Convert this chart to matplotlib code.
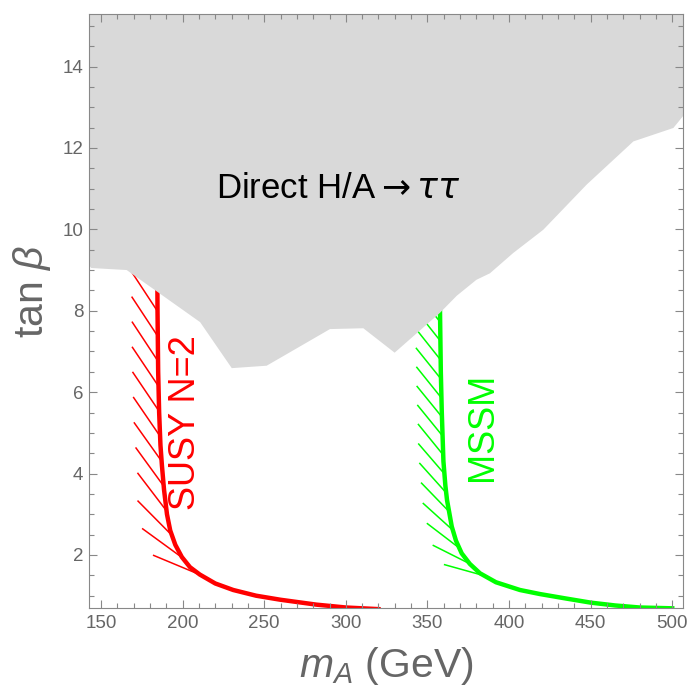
import matplotlib
matplotlib.use('Agg')
import matplotlib.pyplot as plt
import numpy as np
from matplotlib.collections import LineCollection

plt.rcParams['font.family'] = ['Liberation Sans', 'DejaVu Sans']
plt.rcParams['mathtext.fontset'] = 'custom'
plt.rcParams['mathtext.rm'] = 'Liberation Sans'
plt.rcParams['mathtext.it'] = 'Liberation Sans:italic'

# excluded region from direct H/A -> tau tau searches (boundary)
excl_mA = [142, 142, 144, 165.7, 210.7, 230.1, 251.5, 290.3, 310.7, 329.9, 357.7,
           368, 380, 388.3, 402.6, 421, 447.6, 476.2, 500.7, 507, 507]
excl_tb = [15.5, 9.15, 9.05, 9.0, 7.72, 6.59, 6.65, 7.55, 7.57, 6.97, 7.95,
           8.37, 8.76, 8.92, 9.42, 9.99, 11.1, 12.16, 12.49, 12.8, 15.5]

# SUSY N=2 bound
susy_mA = [184.3, 184.4, 184.6, 185.0, 185.6, 186.4, 187.3, 188.6, 190.4, 192.4,
           195.5, 199.5, 204.5, 210.5, 220, 231, 245, 260, 282, 300, 320]
susy_tb = [11.0, 9.5, 8.0, 6.5, 5.5, 4.7, 4.2, 3.6, 3.0, 2.6,
           2.25, 1.95, 1.7, 1.52, 1.3, 1.14, 1.0, 0.9, 0.78, 0.71, 0.67]

# MSSM bound
mssm_mA = [357.4, 357.5, 357.7, 358.2, 358.8, 359.8, 361.0, 362.0, 364.9, 367.5,
           371, 376, 382.2, 392, 406.7, 419, 435, 450, 465, 480, 500]
mssm_tb = [11.0, 9.5, 8.0, 6.5, 5.5, 4.3, 3.7, 3.35, 2.70, 2.35,
           2.04, 1.78, 1.55, 1.33, 1.14, 1.04, 0.93, 0.83, 0.76, 0.71, 0.69]

xticks = [150, 200, 250, 300, 350, 400, 450, 500]
yticks = [2, 4, 6, 8, 10, 12, 14]

W, H = 687, 693
fig = plt.figure(figsize=(W / 100, H / 100), dpi=100)
ax = fig.add_axes([89.3 / W, (H - 607.7) / H, (683 - 89.3) / W, (607.7 - 14) / H])
ax.set_xlim(142.8, 506.6)
ax.set_ylim(0.705, 15.29)
ax.set_axisbelow(False)


def hatch(x, y, color, spacing, psi0, len0, len1, tb_min):
    # short strokes on the excluded (left) side of a bound, spaced evenly along it in pixels
    pts = ax.transData.transform(np.column_stack([x, y]))
    s = np.concatenate([[0], np.cumsum(np.hypot(*np.diff(pts, axis=0).T))])
    s0 = np.interp(tb_min, np.array(y)[::-1], s[::-1])
    px = lambda v: np.array([np.interp(v, s, pts[:, 0]), np.interp(v, s, pts[:, 1])])
    segs = []
    for sb in np.arange(s0, 0, -spacing):
        p = px(sb)
        t = px(sb - 4) - px(sb + 4)
        phi = np.degrees(np.arctan2(t[1], t[0]))
        psi = np.radians(psi0 + 0.6 * (phi - 90))
        L = len0 + (len1 - len0) * np.clip((phi - 90) / 55, 0, 1)
        q = p + L * np.array([np.cos(psi), np.sin(psi)])
        segs.append(ax.transData.inverted().transform(np.array([p, q])))
    ax.add_collection(LineCollection(segs, colors=color, linewidths=1.1, zorder=1.1))


hatch(susy_mA, susy_tb, '#ff0000', 25, 123, 47.5, 51.5, 1.51)
hatch(mssm_mA, mssm_tb, '#00ff00', 19, 128, 40, 42, 1.49)
ax.plot(susy_mA, susy_tb, color='#ff0000', lw=3.2, zorder=1.2)
ax.plot(mssm_mA, mssm_tb, color='#00ff00', lw=3.2, zorder=1.2)

ax.fill(excl_mA, excl_tb, color='#d9d9d9', lw=0, zorder=1.8)

ax.text(295.2, 11.0, 'Direct H/A${\\rightarrow}\\tau\\tau$', fontsize=25,
        color='black', ha='center', va='center', zorder=3, math_fontfamily='dejavusans')
ax.text(202, 5.26, 'SUSY N=2', fontsize=26, color='#ff0000', rotation=90,
        ha='center', va='center', zorder=3)
ax.text(383.6, 5.14, 'MSSM', fontsize=26, color='#00ff00', rotation=90,
        ha='center', va='center', zorder=3)

gray = '#888888'
ax.set_xticks(xticks)
ax.set_yticks(yticks)
ax.set_xticks(np.arange(150, 506, 10), minor=True)
ax.set_yticks(np.arange(1.0, 15.3, 0.5), minor=True)
ax.tick_params(which='both', direction='in', top=True, right=True, color=gray,
               width=0.8, labelsize=13.5, labelcolor='#666666')
ax.tick_params(which='major', length=5.5)
ax.tick_params(which='minor', length=3.3)
ax.tick_params(axis='x', pad=5.5)
ax.tick_params(axis='y', pad=4.3)
for sp in ax.spines.values():
    sp.set_color(gray)
    sp.set_linewidth(0.8)
    sp.set_zorder(5)

ax.set_xlabel('$m_A$ (GeV)', fontsize=29.5, color='#666666', va='center')
ax.xaxis.set_label_coords(0.5, -(666 - 607.7) / 593.7)
ax.set_ylabel('tan $\\beta$', fontsize=29.5, color='#666666', va='center')
ax.yaxis.set_label_coords(-(89.3 - 32) / 593.7, (607.7 - 292) / 593.7)

fig.savefig('out.png', dpi=100)
